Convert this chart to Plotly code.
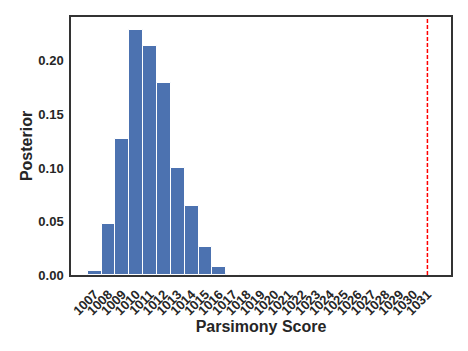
import plotly.graph_objects as go

scores = list(range(1007, 1032))
posterior = [0.0037, 0.0477, 0.127, 0.229, 0.214, 0.179, 0.100, 0.0645, 0.0259, 0.0072,
             0.0006, 0, 0, 0, 0, 0, 0, 0, 0, 0, 0, 0, 0, 0, 0]
tick_labels = [str(s) for s in scores]
observed_score = 1031

fig = go.Figure()
fig.add_trace(go.Bar(
    x=scores, y=posterior, width=1,
    marker=dict(color="#4C72B0", line=dict(color="white", width=1)),
))
fig.add_shape(type="line", x0=observed_score, x1=observed_score, y0=0, y1=1,
              xref="x", yref="paper", line=dict(color="#ff0000", width=1.5, dash="4px,2px"))

font = "Liberation Sans, Arial, sans-serif"
fig.update_layout(
    width=468, height=351,
    margin=dict(l=71, r=17, t=17, b=76),
    plot_bgcolor="white", paper_bgcolor="white",
    showlegend=False,
    font=dict(family=font, color="#262626"),
    bargap=0,
)
fig.update_xaxes(
    range=[1005.3, 1032.7], tickvals=scores, ticktext=tick_labels,
    tickangle=-45, tickfont=dict(size=13, family=font, weight="bold", color="#262626"),
    showline=True, linecolor="#333333", linewidth=1.5, mirror=True,
    showgrid=False, zeroline=False, ticks="", ticklabelstandoff=5, automargin=False,
    title=dict(text="<b>Parsimony Score</b>", font=dict(size=16), standoff=4),
)
fig.update_yaxes(
    range=[0, 0.241], tickvals=[0, 0.05, 0.10, 0.15, 0.20], tickformat=".2f",
    tickfont=dict(size=13, family=font, weight="bold", color="#262626"),
    showline=True, linecolor="#333333", linewidth=1.5, mirror=True,
    showgrid=False, zeroline=False, ticks="", ticklabelstandoff=3, automargin=False,
    title=dict(text="<b>Posterior</b>", font=dict(size=16), standoff=2),
)
fig.write_html("out.html", config={"displayModeBar": False})
with open("out.html", "r", encoding="utf-8") as f:
    html = f.read()
html = html.replace("<head>", "<head><style>html,body{margin:0;padding:0;}</style>", 1)
with open("out.html", "w", encoding="utf-8") as f:
    f.write(html)
